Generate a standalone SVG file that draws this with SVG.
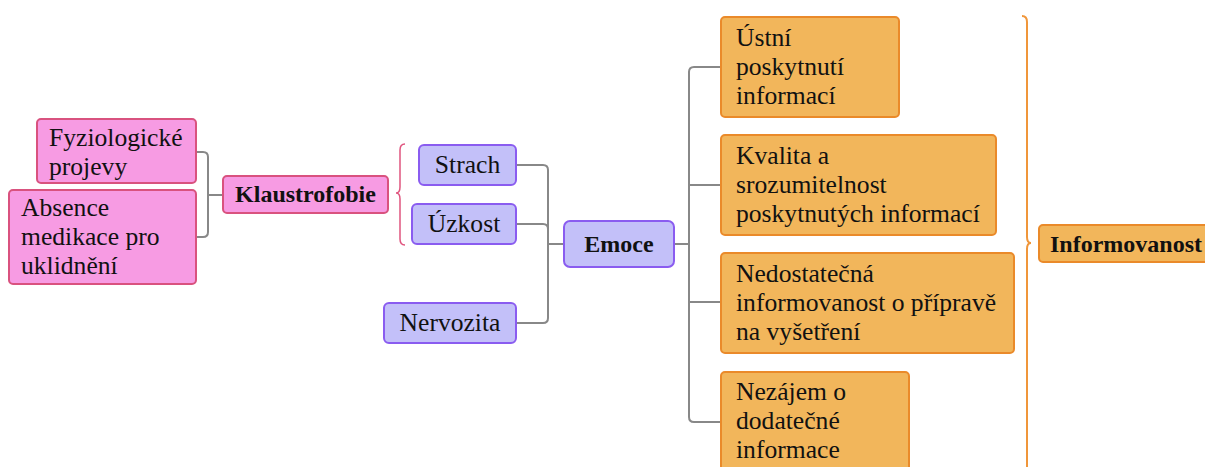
<svg xmlns="http://www.w3.org/2000/svg" width="1205" height="467" viewBox="0 0 1205 467">
<style>
text{font-family:"Liberation Serif","Times New Roman",serif;font-size:25.6px;fill:#111}
.b{font-weight:bold;font-size:24px}
.pink{fill:#F79BE3;stroke:#D9527F;stroke-width:2}
.purple{fill:#C3C0F9;stroke:#8A5CF0;stroke-width:2}
.orange{fill:#F2B65B;stroke:#EA8A2A;stroke-width:2}
.conn{fill:none;stroke:#888;stroke-width:2}
.c{text-anchor:middle}
</style>
<rect width="1205" height="467" fill="#fff"/>
<g id="connectors">
<path class="conn" d="M196,152 H203 Q208,152 208,157 V232 Q208,237 203,237 H196"/>
<path class="conn" d="M208,195 H223"/>
<path class="conn" d="M516,165 H543 Q548,165 548,170 V318 Q548,323 543,323 H516"/>
<path class="conn" d="M516,224 H543 Q548,224 548,229"/>
<path class="conn" d="M548,244 H564"/>
<path class="conn" d="M674,244 H689"/>
<path class="conn" d="M721,67 H694 Q689,67 689,72 V417 Q689,422 694,422 H721"/>
<path class="conn" d="M689,185 H721"/>
<path class="conn" d="M689,302 H721"/>
<path fill="none" stroke="#E0557F" stroke-width="1.5" d="M405,144 Q400,144 400,150 V187 Q400,193 396,193 Q400,193 400,199 V239 Q400,245 405,245"/>
<path fill="none" stroke="#F0963A" stroke-width="2" d="M1022,16 Q1027,16 1027,22 V237 Q1027,243 1031,243 Q1027,243 1027,249 V470"/>
</g>
<g id="fyziologicke">
<rect class="pink" x="37" y="119" width="159" height="64" rx="4"/>
<text x="49" y="146">Fyziologické</text>
<text x="49" y="175">projevy</text>
</g>
<g id="absence">
<rect class="pink" x="9" y="190" width="187" height="94" rx="4"/>
<text x="21" y="216">Absence</text>
<text x="21" y="245">medikace pro</text>
<text x="21" y="274">uklidnění</text>
</g>
<g id="klaustrofobie">
<rect class="pink" x="223" y="176" width="165" height="37" rx="4"/>
<text class="b c" x="305.5" y="202">Klaustrofobie</text>
</g>
<g id="strach">
<rect class="purple" x="419" y="145" width="97" height="40" rx="5"/>
<text class="c" x="467.5" y="173">Strach</text>
</g>
<g id="uzkost">
<rect class="purple" x="412" y="204" width="104" height="40" rx="5"/>
<text class="c" x="464" y="232">Úzkost</text>
</g>
<g id="nervozita">
<rect class="purple" x="384" y="303" width="132" height="40" rx="5"/>
<text class="c" x="450" y="331">Nervozita</text>
</g>
<g id="emoce">
<rect class="purple" x="564" y="221" width="110" height="46" rx="6"/>
<text class="b c" x="619" y="252">Emoce</text>
</g>
<g id="ustni">
<rect class="orange" x="721" y="17" width="178" height="100" rx="4"/>
<text x="736" y="46">Ústní</text>
<text x="736" y="75">poskytnutí</text>
<text x="736" y="104">informací</text>
</g>
<g id="kvalita">
<rect class="orange" x="721" y="135" width="275" height="100" rx="4"/>
<text x="736" y="164">Kvalita a</text>
<text x="736" y="193">srozumitelnost</text>
<text x="736" y="222">poskytnutých informací</text>
</g>
<g id="nedostatecna">
<rect class="orange" x="721" y="253" width="293" height="100" rx="4"/>
<text x="736" y="282">Nedostatečná</text>
<text x="736" y="311">informovanost o přípravě</text>
<text x="736" y="340">na vyšetření</text>
</g>
<g id="nezajem">
<rect class="orange" x="721" y="372" width="188" height="110" rx="4"/>
<text x="736" y="400">Nezájem o</text>
<text x="736" y="429">dodatečné</text>
<text x="736" y="458">informace</text>
</g>
<g id="informovanost">
<rect class="orange" x="1039" y="225" width="180" height="37" rx="4"/>
<text class="b" x="1050" y="252">Informovanost</text>
</g>
</svg>
